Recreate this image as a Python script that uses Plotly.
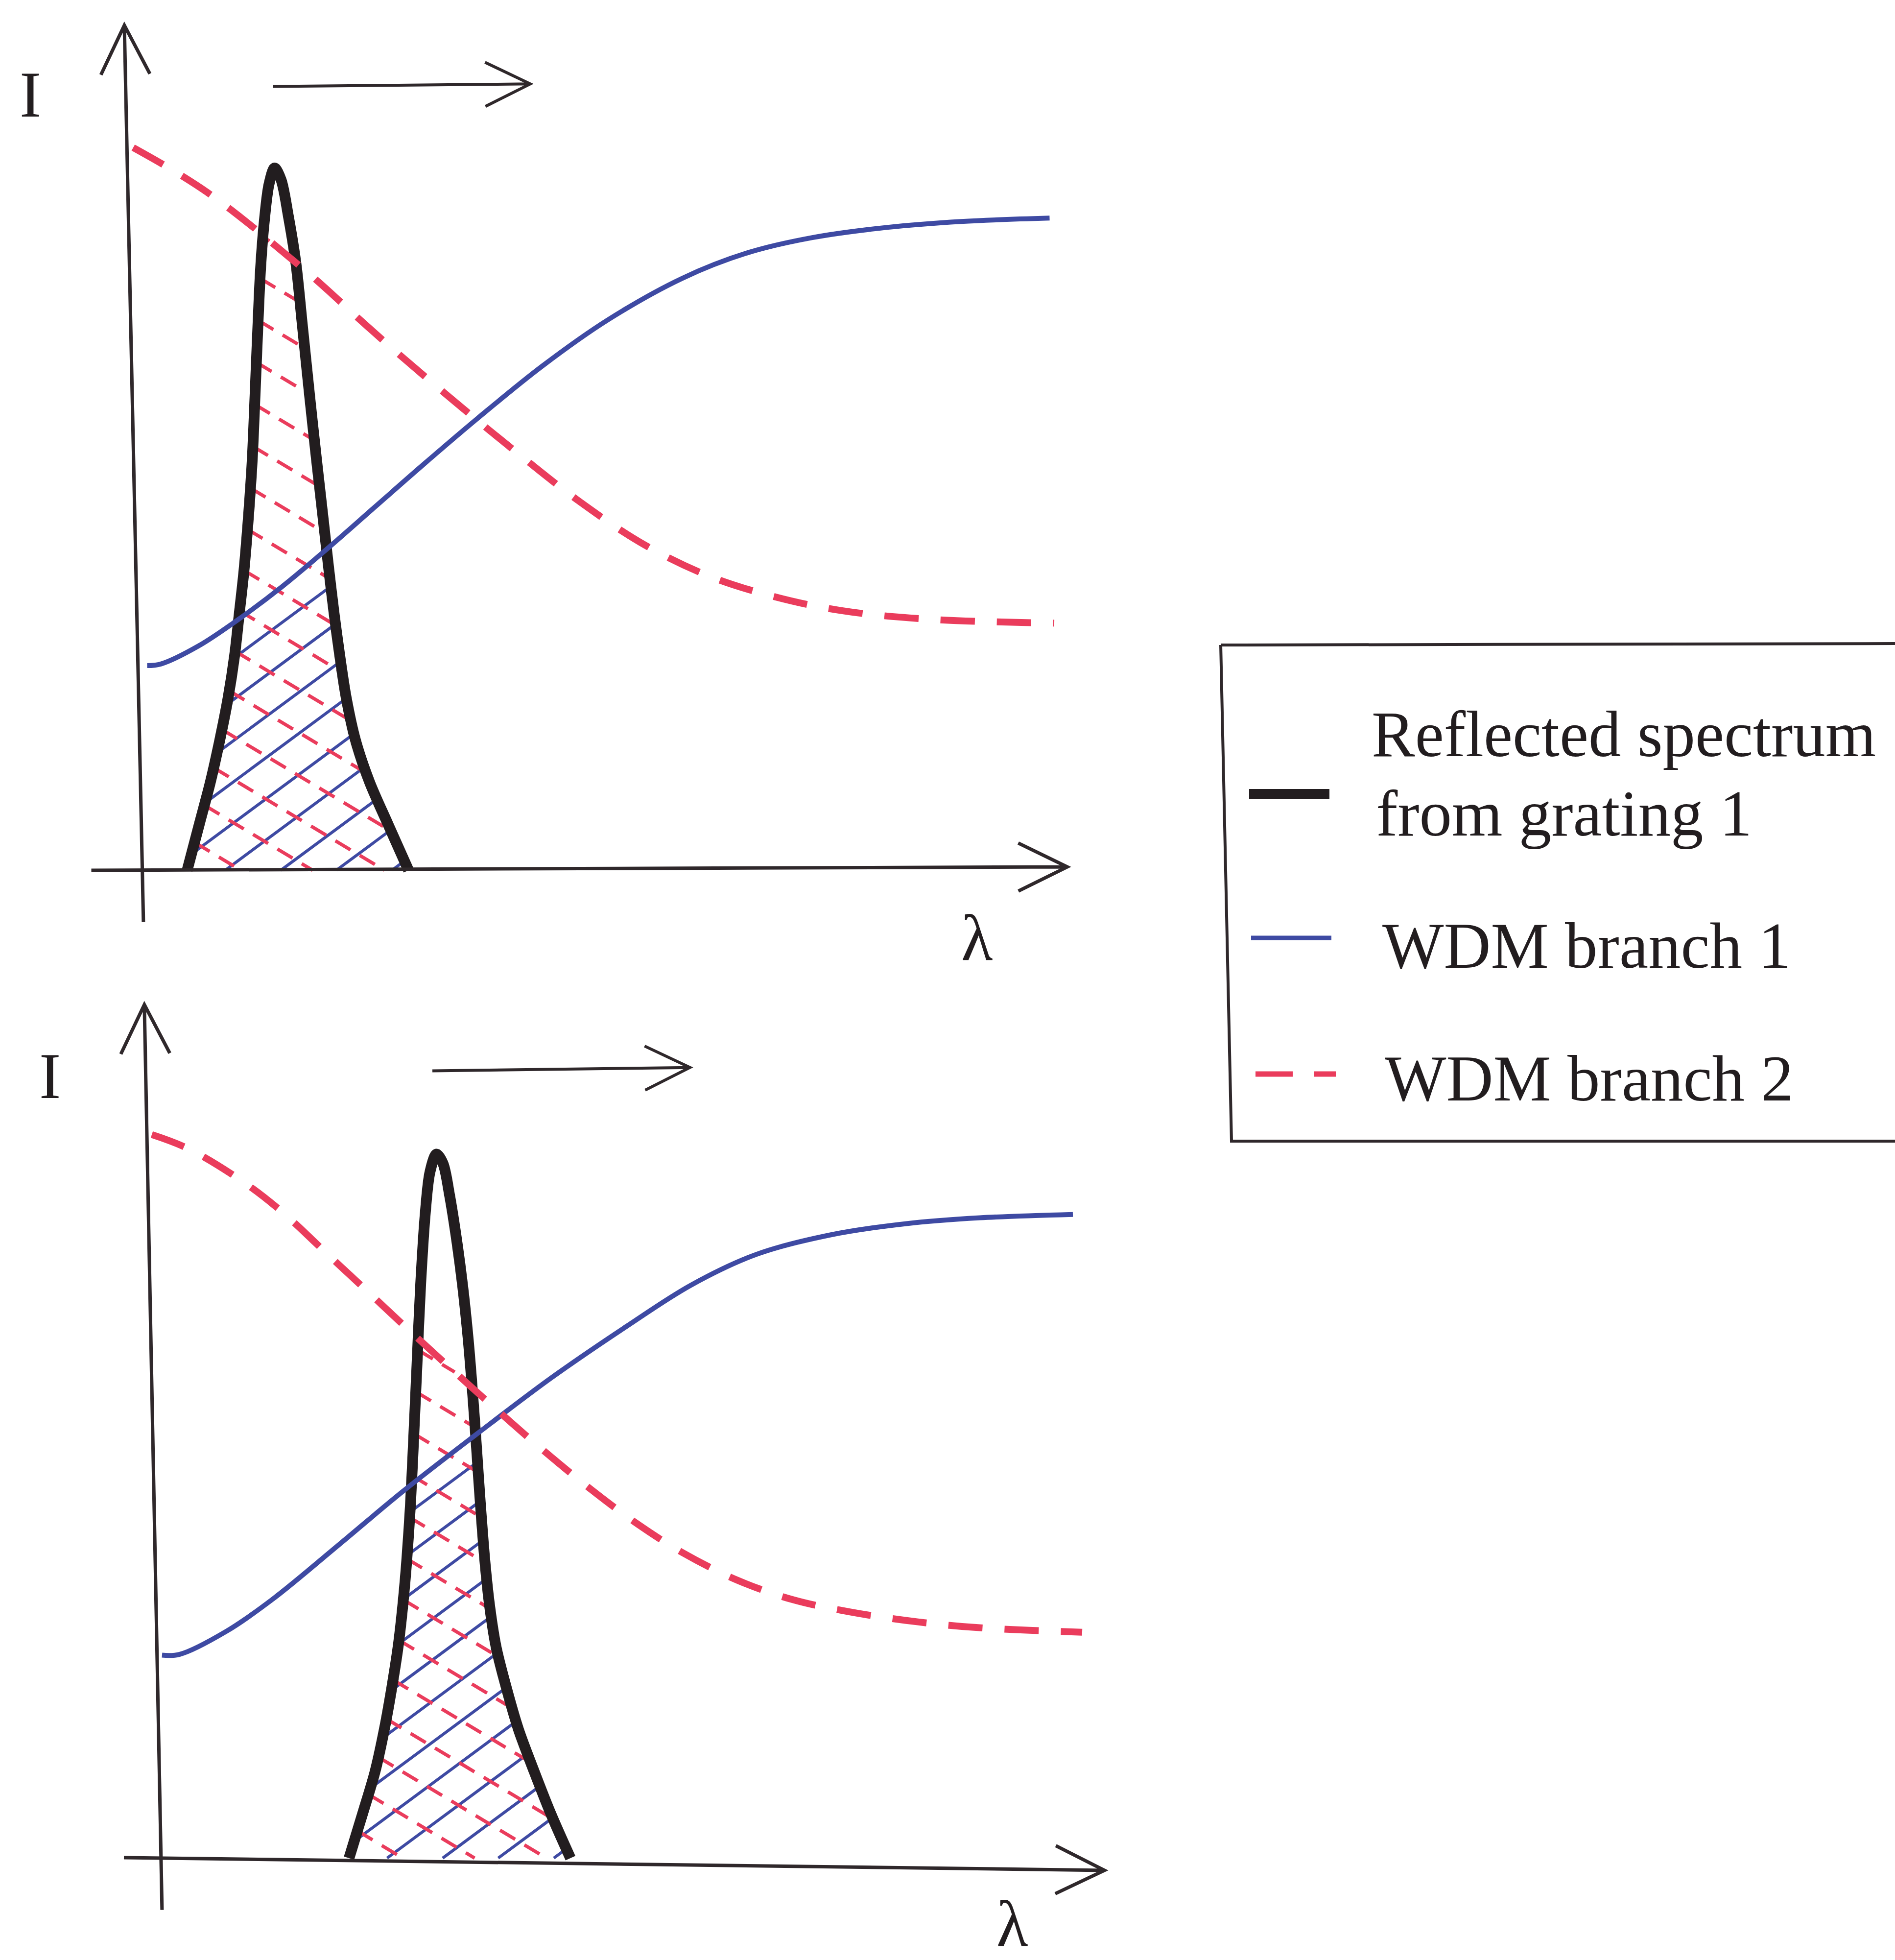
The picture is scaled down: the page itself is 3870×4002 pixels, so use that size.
import numpy as np
import plotly.graph_objects as go

# ---------------------------------------------------------------------------
# Curve data (λ and I in normalised units; axis arrow tips are at about 1.0)
# ---------------------------------------------------------------------------

# Upper panel: grating-1 reflection peak sitting at the short-wavelength side
top_peak_lam = [0.048, 0.061, 0.073, 0.083, 0.092, 0.099, 0.104, 0.109, 0.114, 0.118,
                0.121, 0.124, 0.127, 0.131, 0.136, 0.142, 0.149, 0.157, 0.165, 0.172,
                0.180, 0.187, 0.194, 0.200, 0.206, 0.212, 0.219, 0.229, 0.244, 0.264,
                0.286]
top_peak_int = [0.000, 0.054, 0.104, 0.153, 0.203, 0.253, 0.302, 0.352, 0.418, 0.484,
                0.560, 0.640, 0.710, 0.765, 0.808, 0.827, 0.813, 0.769, 0.714, 0.640,
                0.555, 0.484, 0.416, 0.357, 0.302, 0.253, 0.203, 0.153, 0.104, 0.054,
                0.000]

top_b1_lam = [0.005, 0.020, 0.060, 0.100, 0.150, 0.200, 0.250, 0.300, 0.360, 0.430,
              0.500, 0.580, 0.650, 0.720, 0.800, 0.880, 0.975]
top_b1_int = [0.241, 0.243, 0.264, 0.293, 0.334, 0.380, 0.428, 0.476, 0.532, 0.594,
              0.648, 0.697, 0.727, 0.745, 0.757, 0.764, 0.768]

top_b2_lam = [-0.010, 0.030, 0.070, 0.110, 0.150, 0.190, 0.230, 0.270, 0.330, 0.400,
              0.470, 0.540, 0.610, 0.680, 0.750, 0.840, 0.980]
top_b2_int = [0.851, 0.826, 0.798, 0.765, 0.729, 0.692, 0.652, 0.613, 0.557, 0.494,
              0.434, 0.383, 0.346, 0.322, 0.306, 0.296, 0.291]

# Lower panel: the same peak shifted towards longer wavelength
bot_peak_lam = [0.202, 0.2165, 0.230, 0.240, 0.248, 0.255, 0.260, 0.264, 0.268, 0.271,
                0.275, 0.279, 0.284, 0.289, 0.296, 0.303, 0.310, 0.317, 0.324, 0.330,
                0.335, 0.339, 0.343, 0.348, 0.353, 0.360, 0.371, 0.384, 0.401, 0.419,
                0.440]
bot_peak_int = [0.000, 0.052, 0.102, 0.152, 0.201, 0.251, 0.300, 0.350, 0.416, 0.483,
                0.580, 0.676, 0.760, 0.808, 0.829, 0.818, 0.781, 0.733, 0.675, 0.612,
                0.545, 0.484, 0.420, 0.350, 0.298, 0.249, 0.201, 0.152, 0.102, 0.052,
                0.000]

bot_b1_lam = [0.001, 0.020, 0.070, 0.120, 0.190, 0.260, 0.340, 0.420, 0.500, 0.570,
              0.640, 0.720, 0.800, 0.880, 0.980]
bot_b1_int = [0.239, 0.240, 0.267, 0.305, 0.368, 0.432, 0.500, 0.566, 0.626, 0.675,
              0.711, 0.734, 0.747, 0.754, 0.758]

bot_b2_lam = [-0.010, 0.030, 0.090, 0.130, 0.180, 0.230, 0.270, 0.320, 0.370, 0.410,
              0.460, 0.510, 0.560, 0.620, 0.680, 0.740, 0.800, 0.870, 0.990]
bot_b2_int = [0.852, 0.835, 0.795, 0.761, 0.710, 0.659, 0.618, 0.568, 0.519, 0.481,
              0.436, 0.395, 0.360, 0.327, 0.304, 0.290, 0.280, 0.272, 0.266]

legend_labels = ["Reflected spectrum", "from grating 1", "WDM branch 1", "WDM branch 2"]
axis_label_y = "I"
axis_label_x = "λ"

# ---------------------------------------------------------------------------
# Styling / geometry
# ---------------------------------------------------------------------------
W, H = 3870, 4002
PX, PY = 1900.0, 1734.0          # pixels per unit of λ and of I
BLACK = "#221d1f"
AXIS = "#2f282b"
BLUE = "#3e4aa3"
RED = "#ea3c5c"
FONT = "Liberation Serif, Times New Roman, serif"
FS = 133

# pixel position of each panel's origin and the paper domains it lives in
panels = [
    dict(xa="x", ya="y", ox=291, oy=1777, xdom=[0.0, 0.6], ydom=[0.5, 1.0]),
    dict(xa="x2", ya="y2", ox=329, oy=3794, xdom=[0.0, 0.6], ydom=[0.0, 0.5]),
]


def axis_ranges(p):
    x0p, x1p = p["xdom"][0] * W, p["xdom"][1] * W
    ytop = (1 - p["ydom"][1]) * H
    ybot = (1 - p["ydom"][0]) * H
    xr = [(x0p - p["ox"]) / PX, (x1p - p["ox"]) / PX]
    yr = [(p["oy"] - ybot) / PY, (p["oy"] - ytop) / PY]
    return xr, yr


def arrow_path(x0, y0, x1, y1, head=96.0, half=48.0):
    """Open V-headed arrow as an SVG path in data units."""
    dxp, dyp = (x1 - x0) * PX, (y1 - y0) * PY
    L = np.hypot(dxp, dyp)
    ux, uy = dxp / L, dyp / L
    nx, ny = -uy, ux
    w1 = (x1 - (head * ux + half * nx) / PX, y1 - (head * uy + half * ny) / PY)
    w2 = (x1 - (head * ux - half * nx) / PX, y1 - (head * uy - half * ny) / PY)
    return (f"M{x0:.5f},{y0:.5f} L{x1:.5f},{y1:.5f} "
            f"M{w1[0]:.5f},{w1[1]:.5f} L{x1:.5f},{y1:.5f} L{w2[0]:.5f},{w2[1]:.5f}")


def hatch(peak_l, peak_i, cap_l, cap_i, slope_px, spacing_px, phase=0.0):
    """Straight hatch lines clipped to the area under min(peak, cap)."""
    lam = np.linspace(peak_l[0], peak_l[-1], 2000)
    top = np.minimum(np.interp(lam, peak_l, peak_i), np.interp(lam, cap_l, cap_i))
    m = slope_px * PX / PY
    dc = spacing_px / PY
    c_lo = np.min(-m * lam)
    c_hi = np.max(top - m * lam)
    xs, ys = [], []
    c = c_lo + phase * dc
    while c <= c_hi:
        line = m * lam + c
        inside = (line >= 0) & (line <= top)
        idx = np.flatnonzero(inside)
        if idx.size:
            runs = np.split(idx, np.flatnonzero(np.diff(idx) > 1) + 1)
            for r in runs:
                if r.size < 2:
                    continue
                xs += [lam[r[0]], lam[r[-1]], None]
                ys += [line[r[0]], line[r[-1]], None]
        c += dc
    return xs, ys


data_sets = [
    (top_peak_lam, top_peak_int, top_b1_lam, top_b1_int, top_b2_lam, top_b2_int),
    (bot_peak_lam, bot_peak_int, bot_b1_lam, bot_b1_int, bot_b2_lam, bot_b2_int),
]

fig = go.Figure()

for p, (pl, pi, b1l, b1i, b2l, b2i) in zip(panels, data_sets):
    xa, ya = p["xa"], p["ya"]
    # overlap of the reflected peak with each WDM branch
    hx, hy = hatch(pl, pi, b1l, b1i, slope_px=0.74, spacing_px=84, phase=0.3)
    fig.add_trace(go.Scatter(x=hx, y=hy, mode="lines", xaxis=xa, yaxis=ya,
                             line=dict(color=BLUE, width=6), hoverinfo="skip",
                             showlegend=False))
    rx, ry = hatch(pl, pi, b2l, b2i, slope_px=-0.60, spacing_px=88, phase=0.75)
    fig.add_trace(go.Scatter(x=rx, y=ry, mode="lines", xaxis=xa, yaxis=ya,
                             line=dict(color=RED, width=7, dash="36px,22px"),
                             hoverinfo="skip", showlegend=False))
    fig.add_trace(go.Scatter(x=pl, y=pi, mode="lines", xaxis=xa, yaxis=ya,
                             name="Reflected spectrum from grating 1",
                             line=dict(color=BLACK, width=22, shape="spline", smoothing=0.9),
                             showlegend=False))
    fig.add_trace(go.Scatter(x=b1l, y=b1i, mode="lines", xaxis=xa, yaxis=ya,
                             name="WDM branch 1",
                             line=dict(color=BLUE, width=10, shape="spline", smoothing=1.0),
                             showlegend=False))
    fig.add_trace(go.Scatter(x=b2l, y=b2i, mode="lines", xaxis=xa, yaxis=ya,
                             name="WDM branch 2",
                             line=dict(color=RED, width=14, dash="70px,45px",
                                       shape="spline", smoothing=1.0),
                             showlegend=False))

# axis arrows, shift arrows and axis labels (per panel, in data units)
arrow_sets = [
    dict(yax=(0.001, -0.061, -0.0195, 0.995), xax=(-0.055, 0.0, 0.994, 0.004),
         shift=(0.1405, 0.923, 0.4168, 0.926), ilab=(-0.1205, 0.9135), llab=(0.897, -0.0796)),
    dict(yax=(0.001, -0.061, -0.018, 1.005), xax=(-0.040, 0.0006, 1.014, -0.0144),
         shift=(0.2916, 0.927, 0.5684, 0.931), ilab=(-0.1195, 0.921), llab=(0.915, -0.0775)),
]

shapes = []
annotations = []
for p, a in zip(panels, arrow_sets):
    xr, yr = p["xa"], p["ya"]
    for key, hd, hf, wd in (("yax", 100, 50, 7), ("xax", 100, 49, 7), ("shift", 92, 45, 6)):
        shapes.append(dict(type="path", xref=xr, yref=yr, path=arrow_path(*a[key], head=hd, half=hf),
                           line=dict(color=AXIS, width=wd), layer="above"))
    annotations.append(dict(x=a["ilab"][0], y=a["ilab"][1], xref=xr, yref=yr, text=axis_label_y,
                            showarrow=False, xanchor="center", yanchor="middle",
                            font=dict(family=FONT, size=FS, color=BLACK)))
    annotations.append(dict(x=a["llab"][0], y=a["llab"][1], xref=xr, yref=yr, text=axis_label_x,
                            showarrow=False, xanchor="center", yanchor="middle",
                            font=dict(family=FONT, size=FS, color=BLACK)))


# ---------------------------------------------------------------------------
# Hand-placed legend box (extends past the right edge of the page)
# ---------------------------------------------------------------------------
def pxx(v):
    return v / W


def pxy(v):
    return 1 - v / H


box = (f"M{pxx(2493):.5f},{pxy(1317):.5f} L{pxx(3900):.5f},{pxy(1314):.5f} "
       f"M{pxx(2493):.5f},{pxy(1317):.5f} L{pxx(2515):.5f},{pxy(2330):.5f} "
       f"L{pxx(3900):.5f},{pxy(2330):.5f}")
shapes.append(dict(type="path", xref="paper", yref="paper", path=box,
                   line=dict(color=AXIS, width=6)))
samples = [
    (2551, 2715, 1621, BLACK, 20, "solid"),
    (2555, 2719, 1915, BLUE, 9, "solid"),
    (2564, 2728, 2193, RED, 11, "76px,44px"),
]
for x0, x1, y, col, wd, dash in samples:
    shapes.append(dict(type="line", xref="paper", yref="paper",
                       x0=pxx(x0), x1=pxx(x1), y0=pxy(y), y1=pxy(y),
                       line=dict(color=col, width=wd, dash=dash)))

# (left edge, baseline) of each legend text line
legend_pos = [(2799, 1544), (2808, 1706), (2821, 1976), (2826, 2247)]
for txt, (lx, base) in zip(legend_labels, legend_pos):
    annotations.append(dict(x=pxx(lx), y=pxy(base - 45), xref="paper", yref="paper",
                            text=txt, showarrow=False, xanchor="left", yanchor="middle",
                            font=dict(family=FONT, size=FS, color=BLACK)))

layout = dict(
    width=W, height=H,
    margin=dict(l=0, r=0, t=0, b=0),
    paper_bgcolor="white", plot_bgcolor="white",
    showlegend=False,
    shapes=shapes, annotations=annotations,
)
for i, p in enumerate(panels):
    xr, yr = axis_ranges(p)
    sfx = "" if i == 0 else str(i + 1)
    layout["xaxis" + sfx] = dict(domain=p["xdom"], range=xr, visible=False, fixedrange=True,
                                 anchor="y" + sfx)
    layout["yaxis" + sfx] = dict(domain=p["ydom"], range=yr, visible=False, fixedrange=True,
                                 anchor="x" + sfx)

fig.update_layout(**layout)
fig.write_html("out.html")
